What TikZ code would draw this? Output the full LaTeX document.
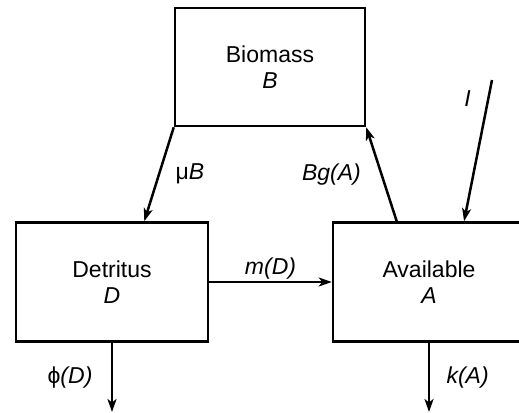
\documentclass[tikz,border=0pt]{standalone}
\usepackage{fontspec}
\setmainfont{Liberation Sans}
\usetikzlibrary{arrows.meta}
\tikzset{->, >={Stealth[length=13pt, width=9pt, inset=3.5pt]}}
\tikzset{pool/.style={draw, rectangle, minimum width=192pt, minimum height=119pt, align=center}}

\begin{document}
\begin{tikzpicture}[x=1pt, y=-1pt, line width=2.5pt, font=\fontsize{23}{26}\selectfont]
    \useasboundingbox (0,0) rectangle (519,412);

    \node[pool, minimum width=190pt, minimum height=118pt] (B) at (270,67) {Biomass\\\textit{B}};
    \node[pool] (D) at (112,282) {Detritus\\\textit{D}};
    \node[pool] (A) at (429,282) {Available\\\textit{A}};

    \coordinate (Iin) at (492,80);
    \coordinate (Dout) at (112,412);
    \coordinate (Aout) at (429,412);

    \draw[-] (B.south west) edge[->] node[right=12pt]{μ\textit{B}} (D.62)
    	  (A.118) edge[->] node[left=16pt]{\textit{Bg(A)}} (B.south east)
    	  (Iin) edge[->] node[pos=0.13, left=13pt]{\textit{I}} (A.60)
    	  (D) edge[->] node[above, inner sep=1pt]{\textit{m(D)}} (A)
    	  (D.south) edge[->] node[left=15pt]{ϕ\textit{(D)}} (Dout)
    	  (A.south) edge[->] node[right=13pt]{\textit{k(A)}} (Aout);
\end{tikzpicture}
\end{document}
